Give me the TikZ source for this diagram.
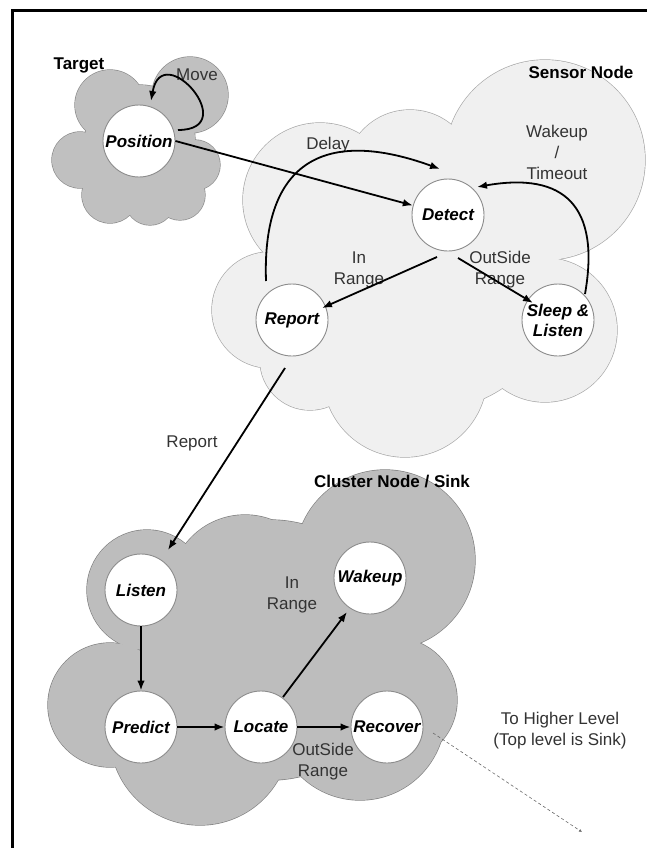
\documentclass[tikz,border=0pt]{standalone}
\usepackage{fontspec}
\setmainfont{Liberation Sans}
\usetikzlibrary{arrows.meta,calc}

\definecolor{tgtfill}{HTML}{C0C0C0}
\definecolor{tgtline}{HTML}{8A8A8A}
\definecolor{snsfill}{HTML}{F0F0F0}
\definecolor{snsline}{HTML}{A6A6A6}
\definecolor{clsfill}{HTML}{BDBDBD}
\definecolor{clsline}{HTML}{808080}
\definecolor{circline}{HTML}{8C8C8C}
\definecolor{txtgray}{HTML}{333333}
\definecolor{dashgray}{HTML}{6A6A6A}

% A cloud is a union of discs: outlines first, then the fills hide the inner outlines.
\newcommand\cloudblob[3]{%
  \foreach \cx/\cy/\r in {#3} \draw[#2, line width=1.3pt] (\cx,-\cy) circle (\r pt);
  \foreach \cx/\cy/\r in {#3} \fill[#1] (\cx,-\cy) circle (\r pt);
}

\tikzset{
  state/.style={circle, draw=circline, fill=white, line width=0.9pt,
    minimum size=72pt, inner sep=0pt, align=center,
    font=\fontsize{17}{20}\selectfont\bfseries\itshape},
  title/.style={inner sep=0pt, text=black, font=\fontsize{17}{20}\selectfont\bfseries},
  note/.style={inner sep=0pt, text=txtgray, align=center, font=\fontsize{17}{21}\selectfont},
  arr/.style={-{Latex[length=10pt,width=7.5pt]}, line width=1.8pt, black},
}

\begin{document}
\begin{tikzpicture}[x=1pt, y=1pt]
\useasboundingbox (0,0) rectangle (647,-848);
\fill[white] (0,0) rectangle (647,-848);

% frame
\draw[line width=3pt, black] (12.5,-848) -- (12.5,-11) -- (647,-11);

% clouds
\cloudblob{tgtfill}{tgtline}{140/140/55, 190/95/38, 110/105/35, 80/160/28, 110/195/28, 150/200/25, 195/165/25, 180/195/25}
\cloudblob{snsfill}{snsline}{430/280/130, 545/160/100, 410/175/65, 320/200/77, 270/310/58, 405/375/82, 545/330/72, 310/360/50}
\cloudblob{clsfill}{clsline}{270/650/130, 385/560/90, 245/590/75, 147/590/60, 110/705/62, 200/735/90, 360/715/85, 395/700/62}

% states
\node[state] (pos) at (139,-141) {Position};
\node[state] (det) at (448,-215) {Detect};
\node[state] (rep) at (292,-320) {Report};
\node[state] (slp) at (558,-320) {Sleep \&\\Listen};
\node[state] (lis) at (141,-590) {Listen};
\node[state] (wak) at (370,-578) {Wakeup};
\node[state] (pre) at (141,-727) {Predict};
\node[state] (loc) at (261,-727) {Locate};
\node[state] (rec) at (387,-727) {Recover};

% titles and labels
\node[title] (ttgt) at (79,-65) {Target};
\node[title] (tsns) at (581,-72) {Sensor Node};
\node[title] (tcls) at (392,-482) {Cluster Node / Sink};
\node[note] (lmove) at (197,-75) {Move};
\node[note] (ldelay) at (328,-145) {Delay};
\node[note] (lwake) at (557,-152) {Wakeup\\/\\Timeout};
\node[note] (lin1) at (359,-270) {In\\Range};
\node[note] (lout1) at (500,-270) {OutSide\\Range};
\node[note] (lrep) at (192,-443) {Report};
\node[note] (lin2) at (292,-595) {In\\Range};
\node[note] (lout2) at (323,-762) {OutSide\\Range};
\node[note] (lhigh) at (560,-731) {To Higher Level\\(Top level is Sink)};

\coordinate (up) at (582,-832);

% transitions
\draw[arr] ($(pos)+(39,11)$) to[out=0, in=80, distance=65pt] ($(pos)+(12,40)$);
\draw[arr] (pos.east) -- (det);
\draw[arr] ($(rep)+(-26,39)$) to[out=92, in=160, distance=121pt] ($(det)+(-8,46)$);
\draw[arr] ($(slp)+(27,26)$) to[out=80, in=10, distance=89pt] ($(det)+(29,28)$);
\draw[arr] ($(det)+(-11,-42)$) -- ($(rep)+(30,12)$);
\draw[arr] ($(det)+(10,-43)$) -- ($(slp)+(-25,17)$);
\draw[arr] ($(rep)+(-7,-48)$) -- ($(lis)+(27,40)$);
\draw[arr] (lis.south) -- (pre.north);
\draw[arr] (pre.east) -- (loc.west);
\draw[arr] (loc.east) -- (rec.west);
\draw[arr] ($(loc)+(22,30)$) -- ($(wak)+(-23,-34)$);
\draw[dashgray, line width=0.6pt, dash pattern=on 3pt off 2.5pt, -{Latex[length=3pt,width=3pt]}]
  ($(rec)+(46,-6)$) -- (up);
\end{tikzpicture}
\end{document}
